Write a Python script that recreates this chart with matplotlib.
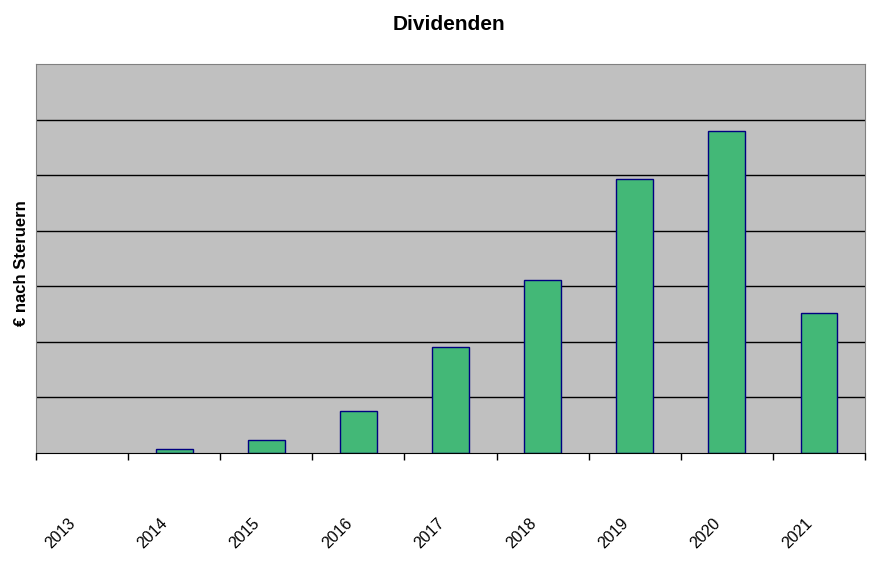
import matplotlib.pyplot as plt
import matplotlib.transforms as mtransforms
import numpy as np

plt.rcParams['font.family'] = ['Liberation Sans', 'DejaVu Sans']

# Jahre und Dividenden (in Gitterlinien-Einheiten, keine Skala im Original)
years = ['2013', '2014', '2015', '2016', '2017', '2018', '2019', '2020', '2021']
dividends = [0.0, 0.07, 0.23, 0.76, 1.91, 3.11, 4.93, 5.79, 2.52]

fig = plt.figure(figsize=(8.82, 5.75), dpi=100)
ax = fig.add_axes([36 / 882, 1 - 453 / 575, 829 / 882, 389 / 575])

x = np.arange(len(years))
ax.set_facecolor('#c0c0c0')
# Null-Balken ohne Rand zeichnen
lw = [1 if v > 0 else 0 for v in dividends]
ax.bar(x, dividends, width=0.4, color='#43b877', edgecolor='#000080', linewidth=lw, zorder=3)

ax.set_xlim(-0.5, len(years) - 0.5)
ax.set_ylim(0, 7)

# Gitterlinien
ax.set_yticks(np.arange(1, 7))
ax.yaxis.grid(True, color='black', linewidth=1)
ax.tick_params(axis='y', left=False, labelleft=False)

# Striche an den Kategoriegrenzen, Beschriftung in der Mitte
ax.set_xticks(np.arange(-0.5, len(years)), minor=False)
ax.set_xticklabels([])
ax.tick_params(axis='x', which='major', direction='out', length=5, width=1, color='black')
ax.set_xticks(x, minor=True)
ax.set_xticklabels(years, minor=True, rotation=45, ha='right', rotation_mode='anchor', fontsize=11.5)
ax.tick_params(axis='x', which='minor', length=0, pad=44)
shift = mtransforms.ScaledTranslation(-0.14, -0.01, fig.dpi_scale_trans)
for lab in ax.get_xticklabels(minor=True):
    lab.set_transform(lab.get_transform() + shift)

for side in ['top', 'left', 'right']:
    ax.spines[side].set_color('#808080')
ax.spines['bottom'].set_color('black')
ax.spines['bottom'].set_zorder(4)

fig.text(449 / 882, 1 - 24 / 575, 'Dividenden', ha='center', va='center', fontsize=15, fontweight='bold')
fig.text(22 / 882, 1 - 263 / 575, '€ nach Steruern', ha='center', va='center', rotation=90,
         fontsize=12, fontweight='bold')

fig.savefig('out.png', dpi=100)
